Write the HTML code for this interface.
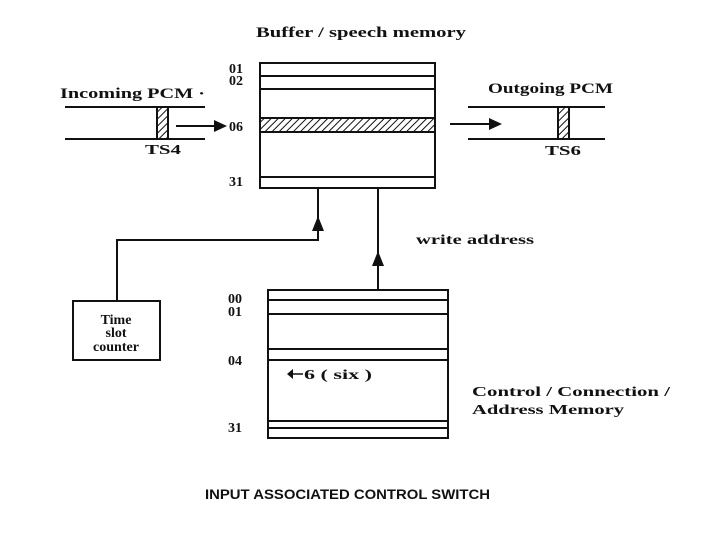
<!DOCTYPE html>
<html><head><meta charset="utf-8"><style>
html,body{margin:0;padding:0;background:#fff;}
svg{display:block;}
.t{font-family:"Liberation Serif",serif;font-weight:bold;fill:#111;}
</style></head><body>
<svg width="720" height="540" viewBox="0 0 720 540" xmlns="http://www.w3.org/2000/svg">
<defs>
<pattern id="h" width="5" height="5" patternUnits="userSpaceOnUse" patternTransform="rotate(45)">
<rect width="5" height="5" fill="#fff"/><line x1="0" y1="0" x2="0" y2="5" stroke="#111" stroke-width="2"/>
</pattern>
</defs>
<g stroke="#111" stroke-width="2" fill="none">
<rect x="260" y="63" width="175" height="125"/>
<line x1="260" y1="76" x2="435" y2="76"/>
<line x1="260" y1="89" x2="435" y2="89"/>
<rect x="260" y="118" width="175" height="14" fill="url(#h)"/>
<line x1="260" y1="177" x2="435" y2="177"/>
<line x1="65" y1="107" x2="205" y2="107"/>
<line x1="65" y1="139" x2="205" y2="139"/>
<rect x="157" y="107" width="11" height="32" fill="url(#h)"/>
<line x1="176" y1="126" x2="214" y2="126"/>
<line x1="468" y1="107" x2="605" y2="107"/>
<line x1="468" y1="139" x2="605" y2="139"/>
<rect x="558" y="107" width="11" height="32" fill="url(#h)"/>
<line x1="450" y1="124" x2="490" y2="124"/>
<polyline points="318,188 318,240 117,240 117,301"/>
<line x1="378" y1="188" x2="378" y2="290"/>
<rect x="73" y="301" width="87" height="59"/>
<rect x="268" y="290" width="180" height="148"/>
<line x1="268" y1="300" x2="448" y2="300"/>
<line x1="268" y1="314" x2="448" y2="314"/>
<line x1="268" y1="349" x2="448" y2="349"/>
<line x1="268" y1="360" x2="448" y2="360"/>
<line x1="268" y1="421" x2="448" y2="421"/>
<line x1="268" y1="428" x2="448" y2="428"/>
<line x1="291" y1="374" x2="303" y2="374" stroke-width="1.5"/>
</g>
<g fill="#111">
<polygon points="214,120 227,126 214,132"/>
<polygon points="489,118 502,124 489,130"/>
<polygon points="312,231 318,216 324,231"/>
<polygon points="372,266 378,251 384,266"/>
<polygon points="287,374 293,369 293,379"/>
</g>
<g class="t" font-size="15">
<text x="256" y="37" textLength="210" lengthAdjust="spacingAndGlyphs">Buffer / speech memory</text>
<text x="60" y="98" textLength="145" lengthAdjust="spacingAndGlyphs">Incoming PCM ·</text>
<text x="488" y="93" textLength="125" lengthAdjust="spacingAndGlyphs">Outgoing PCM</text>
<text x="145" y="154" font-size="14" textLength="36" lengthAdjust="spacingAndGlyphs">TS4</text>
<text x="545" y="155" font-size="14" textLength="36" lengthAdjust="spacingAndGlyphs">TS6</text>
<text x="229" y="73" font-size="14">01</text>
<text x="229" y="85" font-size="14">02</text>
<text x="229" y="131" font-size="14">06</text>
<text x="229" y="186" font-size="14">31</text>
<text x="416" y="244" font-size="14" textLength="118" lengthAdjust="spacingAndGlyphs">write address</text>
<text x="228" y="303" font-size="14">00</text>
<text x="228" y="316" font-size="14">01</text>
<text x="228" y="365" font-size="14">04</text>
<text x="228" y="432" font-size="14">31</text>
<text x="304" y="379" font-size="14" textLength="68" lengthAdjust="spacingAndGlyphs">6 ( six )</text>
<text x="116" y="324" font-size="14" text-anchor="middle">Time</text>
<text x="116" y="337" font-size="14" text-anchor="middle">slot</text>
<text x="116" y="351" font-size="14" text-anchor="middle">counter</text>
<text x="472" y="396" font-size="14" textLength="198" lengthAdjust="spacingAndGlyphs">Control / Connection /</text>
<text x="472" y="414" font-size="14" textLength="152" lengthAdjust="spacingAndGlyphs">Address Memory</text>
</g>
<text x="205" y="499" font-family="Liberation Sans,sans-serif" font-size="13.5" font-weight="bold" fill="#111" textLength="285" lengthAdjust="spacingAndGlyphs">INPUT ASSOCIATED CONTROL SWITCH</text>
</svg>
</body></html>
